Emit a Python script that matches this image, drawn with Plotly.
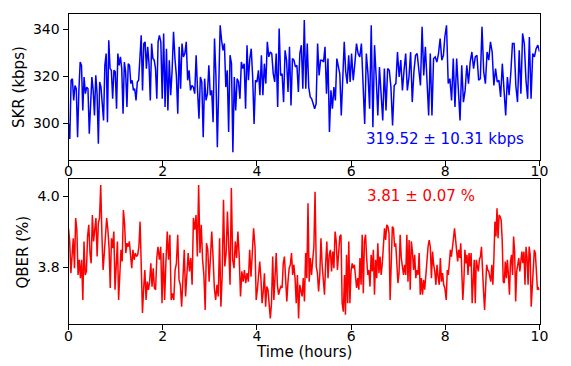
import numpy as np
import plotly.graph_objects as go

# ---------------- data ----------------
# SKR (kbps), five consecutive time segments (start/end hours per segment)
skr_seg_hours = [(0.0, 1.93), (1.96, 3.94), (3.97, 5.98), (6.01, 7.96), (7.99, 10.0)]
skr_seg1 = [299.7, 293.3, 318.3, 319.0, 309.7, 316.1, 314.7, 294.0, 314.0, 326.1, 324.7, 305.4,
            319.7, 312.6, 315.4, 314.7, 295.5, 305.4, 319.7, 314.0, 303.3, 320.4, 312.6, 291.2,
            317.6, 315.4, 307.6, 301.2, 324.7, 329.7, 300.4, 335.4, 323.3, 322.6, 310.4, 322.6,
            321.9, 306.2, 329.7, 324.7, 328.3, 323.3, 304.0, 326.1, 321.9, 306.9, 325.4, 324.7,
            316.9, 318.3, 314.0, 314.7, 309.7, 317.6, 318.3, 327.6, 337.5, 314.0, 334.0, 334.7,
            323.3, 332.6, 325.4, 309.7, 334.0, 327.6, 326.9, 323.3, 310.4, 334.7, 337.5]
skr_seg2 = [334.7, 310.4, 338.3, 306.9, 331.8, 305.4, 326.9, 311.9, 322.6, 339.0, 327.6, 320.4,
            304.0, 332.6, 314.7, 334.0, 328.3, 329.7, 334.7, 318.3, 322.6, 314.0, 316.1, 315.4,
            312.6, 329.0, 314.0, 301.9, 319.7, 317.6, 294.0, 319.0, 309.7, 312.6, 324.7, 311.9,
            314.0, 300.4, 336.1, 320.4, 289.7, 321.1, 341.8, 335.4, 331.1, 334.0, 315.4, 322.6,
            296.2, 329.0, 325.4, 287.6, 319.7, 305.4, 319.0, 317.6, 310.4, 326.1, 323.3, 325.4,
            306.2, 333.3, 318.3, 327.6, 331.8, 319.7, 299.7]
skr_seg3 = [318.3, 317.6, 322.6, 311.9, 329.0, 311.9, 325.4, 316.9, 334.7, 328.3, 330.4, 329.7,
            321.1, 317.6, 329.7, 306.9, 340.4, 320.4, 321.1, 309.0, 331.1, 326.9, 313.3, 332.6,
            307.6, 327.6, 326.9, 324.0, 324.7, 313.3, 329.7, 333.3, 314.7, 344.0, 314.7, 334.0,
            315.4, 311.2, 310.4, 308.3, 306.2, 308.3, 334.0, 320.4, 326.9, 326.9, 326.1, 332.6,
            312.6, 327.6, 296.2, 314.0, 306.2, 315.4, 309.7, 327.6, 324.0, 321.1, 303.3, 322.6,
            334.7, 321.9, 316.9, 329.0, 317.6]
skr_seg4 = [329.7, 318.3, 325.4, 334.0, 329.7, 328.3, 334.0, 319.7, 299.7, 329.7, 321.1, 306.2,
            341.8, 298.3, 333.3, 319.7, 303.3, 324.0, 314.0, 301.2, 323.3, 305.4, 323.3, 322.6,
            315.4, 299.0, 316.1, 316.9, 330.4, 319.7, 326.9, 314.0, 322.6, 329.7, 314.0, 319.7,
            330.4, 309.0, 321.9, 329.0, 329.7, 323.3, 316.1, 341.1, 320.4, 332.6, 316.1, 303.3,
            329.7, 303.3, 327.6, 328.3, 326.1, 329.7, 336.1, 326.9, 329.0]
skr_seg5 = [336.8, 341.8, 316.9, 319.0, 309.7, 327.6, 306.9, 327.6, 316.1, 301.2, 324.7, 309.0,
            314.0, 324.7, 316.9, 326.1, 330.4, 323.3, 328.3, 329.0, 318.3, 319.0, 341.1, 321.9,
            316.9, 330.4, 326.9, 334.7, 330.4, 316.1, 323.3, 317.6, 318.3, 311.2, 325.4, 312.6,
            303.3, 319.7, 311.9, 321.1, 334.0, 334.0, 316.1, 309.0, 331.1, 312.6, 338.3, 334.0,
            318.3, 310.4, 336.8, 310.4, 329.7, 328.3, 331.8, 333.3, 330.5]

# QBER (%), five consecutive time segments
qber_seg_hours = [(0.0, 1.90), (1.93, 3.93), (3.96, 5.86), (5.88, 7.99), (8.02, 10.0)]
qber_seg1 = [3.910, 3.873, 3.783, 3.835, 3.882, 3.797, 3.939, 3.906, 3.778, 3.821, 3.769, 3.821,
             3.707, 3.873, 3.778, 3.788, 3.887, 3.920, 3.840, 3.811, 3.948, 3.873, 3.906, 3.939,
             3.830, 3.925, 3.939, 4.033, 3.892, 3.792, 3.840, 3.887, 3.939, 3.906, 3.854, 3.741,
             3.882, 3.854, 3.901, 3.736, 3.835, 3.873, 3.707, 3.802, 3.849, 3.816, 3.962, 3.925,
             3.840, 3.868, 3.858, 3.873, 3.821, 3.797, 3.849, 3.821, 3.840, 3.830, 3.835, 3.858,
             3.929, 3.750, 3.670, 3.741, 3.792, 3.707, 3.759, 3.736, 3.759, 3.811, 3.745, 3.797,
             3.741, 3.736, 3.826, 3.858]
qber_seg2 = [3.821, 3.858, 3.698, 3.840, 3.707, 3.816, 3.901, 3.821, 3.892, 3.707, 3.726, 3.707,
             3.792, 3.811, 3.892, 3.764, 3.750, 3.688, 3.759, 3.849, 3.717, 3.802, 3.840, 3.788,
             3.826, 3.750, 3.939, 3.906, 3.948, 3.830, 4.033, 3.840, 3.920, 3.821, 3.778, 3.679,
             3.868, 3.849, 3.759, 3.826, 3.901, 3.830, 3.741, 3.707, 3.750, 3.717, 3.882, 3.688,
             3.778, 3.991, 3.802, 3.840, 3.958, 3.858, 3.750, 4.024, 3.821, 3.797, 3.873, 3.826,
             3.901, 3.830, 3.717, 3.788, 3.759, 3.792, 3.755, 3.783, 3.759, 3.849, 3.773, 3.840,
             3.910]
qber_seg3 = [3.858, 3.707, 3.736, 3.773, 3.816, 3.769, 3.698, 3.731, 3.783, 3.688, 3.745, 3.736,
             3.703, 3.655, 3.698, 3.830, 3.707, 3.778, 3.840, 3.750, 3.722, 3.736, 3.745, 3.741,
             3.811, 3.830, 3.745, 3.703, 3.759, 3.797, 3.807, 3.840, 3.778, 3.807, 3.769, 3.698,
             3.778, 3.655, 3.750, 3.736, 3.717, 3.769, 3.703, 3.840, 3.769, 3.981, 3.759, 3.826,
             3.778, 3.821, 3.858, 4.014, 3.802, 3.783, 3.731, 3.778, 3.882, 3.807, 3.759, 3.722,
             3.811, 3.873, 3.769, 3.835, 3.849, 3.788, 3.844, 3.797, 3.901, 3.873, 3.792, 3.830,
             3.887, 3.892, 3.698, 3.674, 3.778]
qber_seg4 = [3.665, 3.835, 3.698, 3.873, 3.698, 3.788, 3.811, 3.797, 3.807, 3.759, 3.741, 3.769,
             3.736, 3.826, 3.750, 3.892, 3.726, 3.873, 3.892, 3.826, 3.778, 3.792, 3.745, 3.835,
             3.788, 3.849, 3.722, 3.821, 3.769, 3.868, 3.783, 3.830, 3.778, 3.811, 3.858, 3.910,
             3.877, 3.920, 3.915, 3.896, 3.707, 3.863, 3.915, 3.910, 3.858, 3.868, 3.821, 3.755,
             3.783, 3.892, 3.826, 3.802, 3.778, 3.807, 3.778, 3.892, 3.759, 3.877, 3.736, 3.873,
             3.844, 3.792, 3.835, 3.769, 3.792, 3.778, 3.840, 3.722, 3.769, 3.722, 3.764, 3.736,
             3.778, 3.830, 3.858, 3.877, 3.858, 3.769, 3.844, 3.807, 3.788, 3.750, 3.807, 3.773,
             3.750, 3.826, 3.759, 3.783, 3.750, 3.741]
qber_seg5 = [3.707, 3.792, 3.778, 3.811, 3.849, 3.830, 3.868, 3.882, 3.910, 3.873, 3.835, 3.816,
             3.849, 3.826, 3.868, 3.778, 3.707, 3.759, 3.849, 3.811, 3.835, 3.778, 3.840, 3.802,
             3.840, 3.698, 3.788, 3.821, 3.698, 3.821, 3.802, 3.788, 3.821, 3.830, 3.858, 3.778,
             3.731, 3.679, 3.750, 3.807, 3.792, 3.788, 3.773, 3.759, 3.807, 3.750, 3.826, 3.929,
             3.887, 3.967, 3.882, 3.948, 3.943, 3.934, 3.877, 3.759, 3.755, 3.816, 3.769, 3.821,
             3.778, 3.722, 3.816, 3.835, 3.778, 3.887, 3.844, 3.703, 3.788, 3.807, 3.826, 3.788,
             3.821, 3.844, 3.811, 3.844, 3.750, 3.858, 3.826, 3.750, 3.858, 3.835, 3.688, 3.750,
             3.788, 3.849, 3.840, 3.797, 3.736, 3.741, 3.736]

x_ticks = [0, 2, 4, 6, 8, 10]
skr_ticks = [300, 320, 340]
qber_ticks = [3.8, 4.0]
skr_label = "319.52 ± 10.31 kbps"
qber_label = "3.81 ± 0.07 %"

# ---------------- assemble series ----------------
def build(segments, bounds):
    t = np.concatenate([np.linspace(a, b, len(s)) for s, (a, b) in zip(segments, bounds)])
    v = np.concatenate([np.asarray(s, dtype=float) for s in segments])
    return t, v

t_skr, skr = build([skr_seg1, skr_seg2, skr_seg3, skr_seg4, skr_seg5], skr_seg_hours)
t_qber, qber = build([qber_seg1, qber_seg2, qber_seg3, qber_seg4, qber_seg5], qber_seg_hours)

W, H = 571, 366
FONT = "DejaVu Sans"

fig = go.Figure()
fig.add_trace(go.Scatter(x=t_skr, y=skr, mode="lines", line=dict(color="#0000ff", width=1.5),
                         xaxis="x", yaxis="y", showlegend=False, hoverinfo="skip"))
fig.add_trace(go.Scatter(x=t_qber, y=qber, mode="lines", line=dict(color="#ff0000", width=1.5),
                         xaxis="x2", yaxis="y2", showlegend=False, hoverinfo="skip"))

x0, x1 = 68.5 / W, 539.5 / W
top_dom = [1 - 159.5 / H, 1 - 14 / H]
bot_dom = [1 - 324 / H, 1 - 179.3 / H]

axis_common = dict(showline=True, mirror=True, linecolor="black", linewidth=1,
                   ticks="outside", ticklen=5, tickwidth=1, tickcolor="black",
                   showgrid=False, zeroline=False, automargin=False,
                   tickfont=dict(family=FONT, size=14, color="black"))

fig.update_layout(
    width=W, height=H,
    margin=dict(l=0, r=0, t=0, b=0),
    paper_bgcolor="white", plot_bgcolor="white",
    font=dict(family=FONT, size=14, color="black"),
    xaxis=dict(domain=[x0, x1], anchor="y", range=[0, 10], tickvals=x_ticks,
               ticktext=[str(v) for v in x_ticks], ticklabelstandoff=-6, **axis_common),
    yaxis=dict(domain=top_dom, anchor="x", range=[284.5, 346.6], tickvals=skr_ticks,
               ticktext=[str(v) for v in skr_ticks], **axis_common),
    xaxis2=dict(domain=[x0, x1], anchor="y2", range=[0, 10], tickvals=x_ticks,
                ticktext=[str(v) for v in x_ticks], ticklabelstandoff=-6, **axis_common),
    yaxis2=dict(domain=bot_dom, anchor="x2", range=[3.639, 4.049], tickvals=qber_ticks,
                ticktext=[f"{v:.1f}" for v in qber_ticks], **axis_common),
)

ann_font = dict(family=FONT, size=15)
fig.add_annotation(text="SKR (kbps)", x=19 / W, y=1 - 87 / H, xref="paper", yref="paper",
                   textangle=-90, showarrow=False, font=dict(ann_font, color="black"),
                   xanchor="center", yanchor="middle")
fig.add_annotation(text="QBER (%)", x=22.5 / W, y=1 - 252 / H, xref="paper", yref="paper",
                   textangle=-90, showarrow=False, font=dict(ann_font, color="black"),
                   xanchor="center", yanchor="middle")
fig.add_annotation(text="Time (hours)", x=303.5 / W, y=1 - 352 / H, xref="paper", yref="paper",
                   showarrow=False, font=dict(ann_font, color="black"),
                   xanchor="center", yanchor="middle")
fig.add_annotation(text=skr_label, x=445 / W, y=1 - 139 / H, xref="paper", yref="paper",
                   showarrow=False, font=dict(ann_font, color="#0000ff"),
                   xanchor="center", yanchor="middle")
fig.add_annotation(text=qber_label, x=421 / W, y=1 - 195.5 / H, xref="paper", yref="paper",
                   showarrow=False, font=dict(ann_font, color="#ff0000"),
                   xanchor="center", yanchor="middle")

fig.write_html("out.html", config={"displayModeBar": False, "staticPlot": True},
               post_script="document.body.style.margin='0';document.body.style.overflow='hidden';")
